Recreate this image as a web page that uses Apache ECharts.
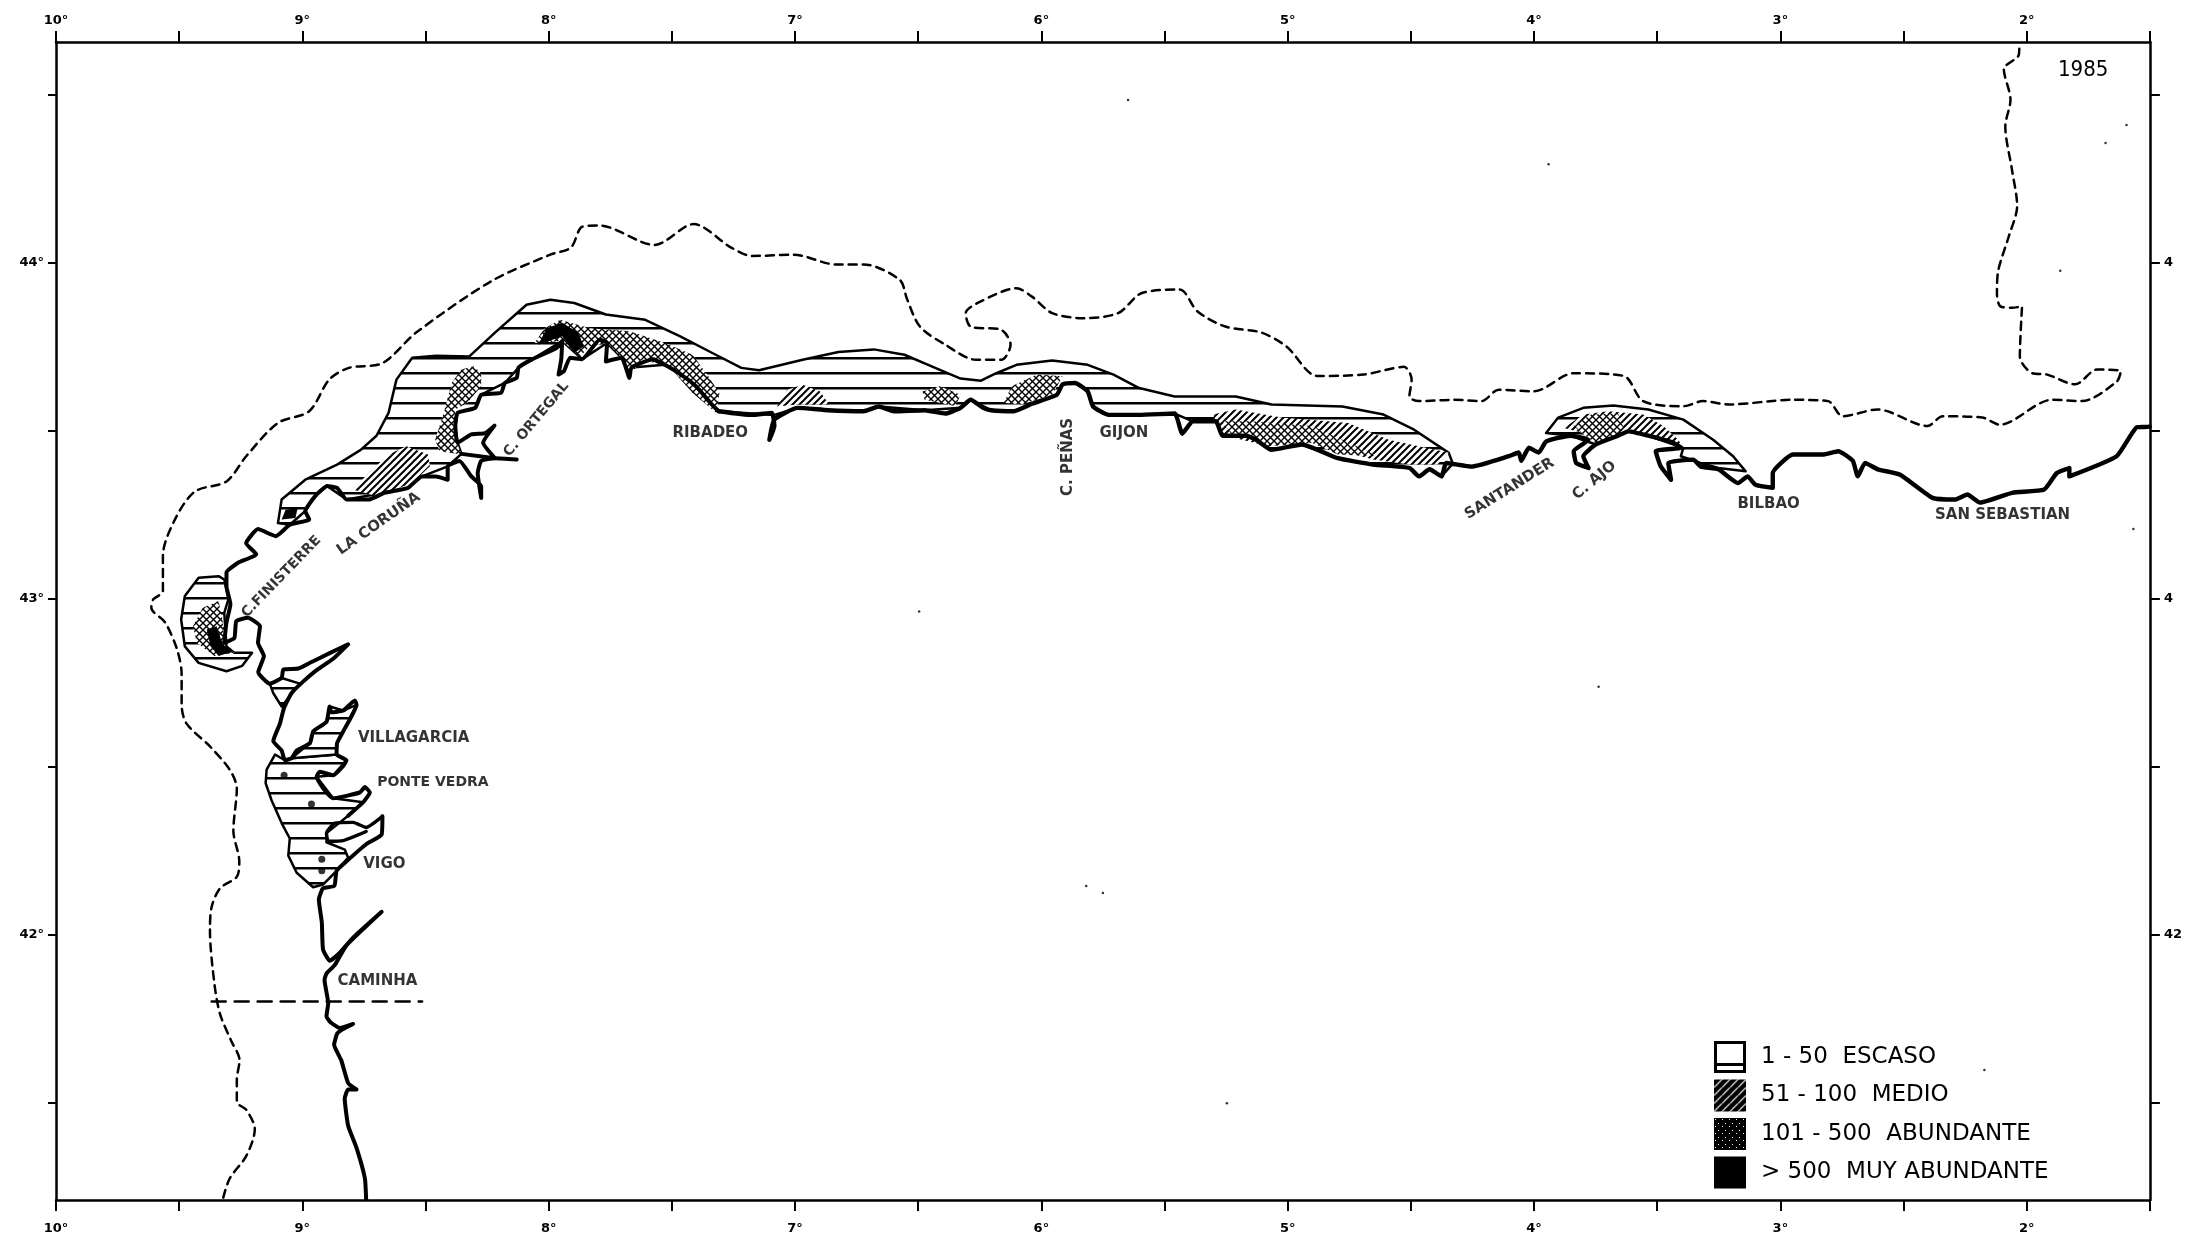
<!DOCTYPE html>
<html><head><meta charset="utf-8">
<style>html,body{margin:0;padding:0;background:#fff}#c{width:2185px;height:1240px}</style>
<script src="https://cdn.jsdelivr.net/npm/echarts@6/dist/echarts.min.js"></script>
</head><body><div id="c"></div>
<script>
// ---- axis values ----
const lonTicks=[-10,-9.5,-9,-8.5,-8,-7.5,-7,-6.5,-6,-5.5,-5,-4.5,-4,-3.5,-3,-2.5,-2,-1.5];
const lonLabels=[-10,-9,-8,-7,-6,-5,-4,-3,-2];
const latTicks=[41.5,42,42.5,43,43.5,44,44.5];
const latLabels=[42,43,44];
const rightLatText={42:'42',43:'4',44:'4'};
// ---- coastline pieces [lon,lat] ----
const coastSouth=[[-8.741,41.213],[-8.746,41.275],[-8.780,41.366],[-8.814,41.432],[-8.828,41.513],[-8.814,41.540],[-8.780,41.540],[-8.814,41.559],[-8.842,41.627],[-8.871,41.673],[-8.859,41.706],[-8.837,41.719],[-8.794,41.735],[-8.848,41.723],[-8.887,41.741],[-8.902,41.758],[-8.895,41.797],[-8.910,41.866],[-8.902,41.885],[-8.868,41.911],[-8.821,41.969],[-8.678,42.069],[-8.794,41.992],[-8.848,41.947],[-8.889,41.923],[-8.916,41.957],[-8.921,42.038],[-8.933,42.105],[-8.916,42.139],[-8.870,42.146],[-8.861,42.191],[-8.821,42.219],[-8.741,42.270],[-8.678,42.299],[-8.675,42.353]];
const coastVigoRia=[[-8.675,42.353],[-8.741,42.320],[-8.794,42.335],[-8.868,42.333],[-8.902,42.303],[-8.895,42.279],[-8.834,42.281],[-8.741,42.308]];
const coastRias=[[-8.814,42.355],[-8.753,42.395],[-8.726,42.424],[-8.746,42.440],[-8.767,42.424],[-8.875,42.407],[-8.908,42.429],[-8.942,42.471],[-8.929,42.486],[-8.875,42.475],[-8.834,42.503],[-8.821,42.520],[-8.861,42.537],[-8.859,42.571],[-8.834,42.606],[-8.780,42.685],[-8.787,42.698],[-8.834,42.668],[-8.882,42.663],[-8.889,42.680],[-8.902,42.634],[-8.956,42.606],[-8.969,42.571],[-9.023,42.549],[-9.044,42.526],[-9.071,42.520],[-9.084,42.549],[-9.118,42.577],[-9.091,42.629],[-9.075,42.674],[-9.044,42.720],[-8.997,42.754],[-8.942,42.788],[-8.875,42.822],[-8.814,42.865],[-8.889,42.839],[-8.969,42.810],[-9.017,42.793],[-9.077,42.790],[-9.084,42.765],[-9.132,42.748],[-9.179,42.782],[-9.156,42.830],[-9.180,42.870],[-9.172,42.919],[-9.221,42.944],[-9.268,42.934],[-9.276,42.884],[-9.317,42.870],[-9.308,42.930],[-9.292,42.984],[-9.308,43.038],[-9.308,43.079],[-9.261,43.108],[-9.187,43.133],[-9.228,43.166],[-9.180,43.208],[-9.108,43.187],[-9.051,43.221],[-8.972,43.237],[-8.988,43.262],[-8.947,43.307],[-8.899,43.336],[-8.859,43.331],[-8.820,43.296],[-8.731,43.296],[-8.667,43.316],[-8.571,43.331],[-8.514,43.365],[-8.458,43.365],[-8.410,43.355],[-8.410,43.395],[-8.362,43.411],[-8.314,43.365],[-8.274,43.336],[-8.274,43.301],[-8.288,43.374],[-8.274,43.411],[-8.218,43.419],[-8.130,43.415]];
const coastFerrol=[[-8.354,43.432],[-8.218,43.419],[-8.266,43.465],[-8.220,43.516],[-8.258,43.494],[-8.314,43.490],[-8.370,43.465],[-8.379,43.515],[-8.370,43.554],[-8.298,43.569],[-8.274,43.608],[-8.193,43.614],[-8.178,43.643],[-8.130,43.658],[-8.122,43.689],[-8.066,43.714],[-7.969,43.747],[-7.945,43.768],[-7.949,43.714],[-7.960,43.668],[-7.938,43.678],[-7.913,43.718],[-7.864,43.714],[-7.793,43.772],[-7.763,43.762],[-7.768,43.707],[-7.704,43.718],[-7.672,43.658],[-7.664,43.689],[-7.576,43.714],[-7.528,43.697],[-7.463,43.668],[-7.401,43.633],[-7.344,43.584],[-7.310,43.559]];
const coastCantabria=[[-7.310,43.559],[-7.176,43.548],[-7.094,43.554],[-7.084,43.515],[-7.104,43.474],[-7.084,43.534],[-6.990,43.569],[-6.866,43.562],[-6.722,43.559],[-6.660,43.573],[-6.598,43.559],[-6.474,43.562],[-6.390,43.552],[-6.328,43.569],[-6.287,43.593],[-6.236,43.569],[-6.204,43.562],[-6.112,43.559],[-6.038,43.581],[-5.937,43.608],[-5.914,43.639],[-5.863,43.643],[-5.812,43.618],[-5.790,43.573],[-5.727,43.548],[-5.603,43.548],[-5.459,43.552],[-5.428,43.492],[-5.385,43.529],[-5.292,43.529],[-5.264,43.486],[-5.169,43.486],[-5.128,43.474],[-5.066,43.444],[-4.942,43.460],[-4.797,43.419],[-4.653,43.400],[-4.506,43.390],[-4.467,43.365],[-4.424,43.386],[-4.376,43.365],[-4.356,43.405],[-4.254,43.394],[-4.102,43.425],[-4.062,43.436],[-4.052,43.411],[-4.021,43.450],[-3.981,43.436],[-3.951,43.469],[-3.851,43.486],[-3.779,43.474],[-3.839,43.440],[-3.829,43.405],[-3.779,43.390],[-3.800,43.425],[-3.749,43.460],[-3.659,43.486],[-3.617,43.499],[-3.536,43.486],[-3.435,43.465],[-3.404,43.450],[-3.506,43.440],[-3.486,43.395],[-3.444,43.355],[-3.455,43.405],[-3.353,43.415],[-3.323,43.394],[-3.252,43.386],[-3.172,43.345],[-3.133,43.365],[-3.101,43.340],[-3.031,43.331],[-3.031,43.375],[-2.949,43.430],[-2.827,43.430],[-2.765,43.440],[-2.706,43.411],[-2.686,43.365],[-2.656,43.405],[-2.605,43.386],[-2.514,43.370],[-2.382,43.301],[-2.291,43.296],[-2.241,43.311],[-2.190,43.287],[-2.059,43.316],[-1.929,43.326],[-1.878,43.375],[-1.827,43.390],[-1.827,43.365],[-1.635,43.425],[-1.553,43.511],[-1.522,43.512],[-1.500,43.513]];
// ---- dashed contour ----
const contour=[[-9.321,41.218],[-9.295,41.275],[-9.227,41.343],[-9.193,41.422],[-9.227,41.479],[-9.266,41.503],[-9.266,41.569],[-9.255,41.627],[-9.289,41.685],[-9.334,41.764],[-9.357,41.855],[-9.375,42.014],[-9.368,42.084],[-9.334,42.139],[-9.266,42.173],[-9.256,42.219],[-9.280,42.310],[-9.266,42.436],[-9.295,42.492],[-9.375,42.561],[-9.470,42.629],[-9.490,42.685],[-9.490,42.776],[-9.509,42.851],[-9.557,42.930],[-9.613,42.974],[-9.605,42.999],[-9.566,43.023],[-9.566,43.129],[-9.517,43.237],[-9.436,43.320],[-9.308,43.350],[-9.228,43.425],[-9.099,43.524],[-8.972,43.559],[-8.891,43.653],[-8.811,43.688],[-8.675,43.702],[-8.538,43.793],[-8.233,43.946],[-7.994,44.025],[-7.910,44.046],[-7.864,44.108],[-7.796,44.112],[-7.570,44.054],[-7.412,44.116],[-7.259,44.046],[-7.175,44.021],[-7.005,44.025],[-6.835,43.996],[-6.722,43.996],[-6.575,43.950],[-6.545,43.892],[-6.493,43.811],[-6.390,43.757],[-6.266,43.712],[-6.163,43.712],[-6.125,43.757],[-6.163,43.801],[-6.287,43.811],[-6.307,43.851],[-6.245,43.886],[-6.101,43.925],[-6.038,43.900],[-5.956,43.851],[-5.831,43.836],[-5.688,43.851],[-5.594,43.910],[-5.439,43.921],[-5.366,43.856],[-5.253,43.811],[-5.107,43.793],[-5.004,43.751],[-4.880,43.664],[-4.693,43.668],[-4.529,43.691],[-4.497,43.653],[-4.506,43.603],[-4.467,43.589],[-4.325,43.593],[-4.214,43.589],[-4.143,43.623],[-4.001,43.618],[-3.839,43.672],[-3.636,43.664],[-3.557,43.589],[-3.394,43.574],[-3.314,43.589],[-3.212,43.579],[-2.949,43.593],[-2.807,43.589],[-2.747,43.544],[-2.605,43.564],[-2.403,43.515],[-2.341,43.544],[-2.180,43.540],[-2.110,43.519],[-1.897,43.593],[-1.776,43.589],[-1.635,43.647],[-1.618,43.678],[-1.714,43.683],[-1.804,43.639],[-1.917,43.668],[-1.977,43.672],[-2.028,43.722],[-2.019,43.871],[-2.060,43.867],[-2.107,43.871],[-2.121,43.911],[-2.115,43.980],[-2.073,44.079],[-2.039,44.170],[-2.060,44.278],[-2.087,44.407],[-2.066,44.486],[-2.093,44.577],[-2.032,44.620],[-2.030,44.651]];
const caminhaLine=[[-9.368,41.802],[-8.514,41.802]];
// ---- abundance zones ----
const zoneEscasoNorth=[[-9.099,43.226],[-9.084,43.296],[-8.988,43.355],[-8.859,43.400],[-8.763,43.444],[-8.699,43.486],[-8.650,43.554],[-8.618,43.653],[-8.554,43.718],[-8.458,43.724],[-8.322,43.722],[-8.218,43.793],[-8.090,43.876],[-7.993,43.891],[-7.896,43.881],[-7.768,43.847],[-7.608,43.831],[-7.466,43.782],[-7.322,43.727],[-7.218,43.688],[-7.146,43.681],[-6.969,43.712],[-6.824,43.735],[-6.680,43.743],[-6.556,43.727],[-6.431,43.688],[-6.328,43.656],[-6.245,43.650],[-6.183,43.672],[-6.101,43.697],[-5.956,43.710],[-5.812,43.697],[-5.707,43.668],[-5.603,43.628],[-5.459,43.603],[-5.211,43.603],[-5.066,43.579],[-4.778,43.573],[-4.611,43.549],[-4.487,43.504],[-4.346,43.435],[-4.330,43.403],[-4.376,43.365],[-4.424,43.386],[-4.467,43.365],[-4.506,43.390],[-4.653,43.400],[-4.797,43.419],[-4.942,43.460],[-5.066,43.444],[-5.128,43.474],[-5.169,43.486],[-5.264,43.486],[-5.292,43.529],[-5.385,43.529],[-5.459,43.552],[-5.603,43.548],[-5.727,43.548],[-5.790,43.573],[-5.812,43.618],[-5.863,43.643],[-5.914,43.639],[-5.937,43.608],[-6.038,43.581],[-6.112,43.559],[-6.204,43.562],[-6.287,43.593],[-6.328,43.569],[-6.474,43.562],[-6.660,43.573],[-6.722,43.559],[-6.866,43.562],[-6.990,43.569],[-7.084,43.548],[-7.310,43.559],[-7.344,43.584],[-7.401,43.633],[-7.463,43.668],[-7.528,43.697],[-7.664,43.689],[-7.763,43.762],[-7.864,43.714],[-7.945,43.768],[-8.066,43.714],[-8.122,43.689],[-8.178,43.643],[-8.274,43.608],[-8.298,43.569],[-8.370,43.554],[-8.379,43.515],[-8.370,43.465],[-8.354,43.432],[-8.410,43.395],[-8.514,43.365],[-8.667,43.316],[-8.820,43.296],[-8.899,43.336],[-8.947,43.307],[-8.988,43.262],[-9.051,43.221]];
const zoneEscasoFinisterre=[[-9.340,43.068],[-9.421,43.063],[-9.477,43.009],[-9.492,42.939],[-9.477,42.859],[-9.421,42.810],[-9.308,42.785],[-9.244,42.801],[-9.204,42.840],[-9.276,42.840],[-9.308,42.859],[-9.317,42.959],[-9.300,43.000],[-9.317,43.058]];
const zoneEscasoRias=[[-9.111,42.537],[-9.145,42.492],[-9.149,42.452],[-9.125,42.401],[-9.084,42.333],[-9.051,42.287],[-9.057,42.236],[-9.023,42.185],[-8.956,42.142],[-8.916,42.150],[-8.861,42.191],[-8.814,42.230],[-8.828,42.254],[-8.902,42.276],[-8.902,42.303],[-8.814,42.355],[-8.753,42.395],[-8.875,42.407],[-8.942,42.471],[-8.875,42.475],[-8.821,42.520],[-8.861,42.537],[-9.044,42.526],[-9.071,42.520]];
const zoneEscasoArousa=[[-9.044,42.526],[-8.969,42.571],[-8.956,42.606],[-8.902,42.634],[-8.889,42.680],[-8.834,42.668],[-8.780,42.685],[-8.834,42.606],[-8.859,42.571],[-8.861,42.537]];
const zoneEscasoMuros=[[-9.132,42.748],[-9.084,42.765],[-9.010,42.748],[-9.084,42.680],[-9.118,42.720]];
const zoneEscasoAjo=[[-3.951,43.494],[-3.902,43.540],[-3.800,43.569],[-3.678,43.576],[-3.536,43.564],[-3.394,43.534],[-3.273,43.474],[-3.192,43.425],[-3.141,43.380],[-3.252,43.390],[-3.325,43.405],[-3.404,43.425],[-3.394,43.450],[-3.536,43.486],[-3.617,43.499],[-3.749,43.460],[-3.851,43.486]];
const zoneMedioCoruna=[[-8.578,43.455],[-8.490,43.430],[-8.482,43.395],[-8.554,43.345],[-8.699,43.306],[-8.795,43.326],[-8.731,43.375],[-8.650,43.430]];
const zoneMedioRibadeo=[[-7.073,43.573],[-7.032,43.623],[-6.969,43.638],[-6.898,43.618],[-6.862,43.579],[-6.990,43.579]];
const zoneMedioGijon=[[-5.303,43.549],[-5.211,43.564],[-5.025,43.540],[-4.755,43.524],[-4.591,43.474],[-4.346,43.435],[-4.393,43.400],[-4.506,43.400],[-4.653,43.415],[-4.902,43.465],[-5.077,43.455],[-5.253,43.486],[-5.292,43.529]];
const zoneMedioAjo=[[-3.879,43.509],[-3.800,43.549],[-3.698,43.559],[-3.557,43.549],[-3.475,43.515],[-3.415,43.474],[-3.394,43.450],[-3.536,43.486],[-3.617,43.499],[-3.659,43.486],[-3.749,43.474],[-3.800,43.494]];
const zoneAbundFinisterre=[[-9.340,42.994],[-9.404,42.974],[-9.444,42.919],[-9.428,42.870],[-9.357,42.830],[-9.276,42.840],[-9.317,42.859],[-9.324,42.939]];
const zoneAbundCedeira=[[-8.305,43.693],[-8.274,43.672],[-8.274,43.633],[-8.330,43.584],[-8.379,43.564],[-8.386,43.515],[-8.370,43.461],[-8.354,43.430],[-8.442,43.440],[-8.461,43.474],[-8.426,43.554],[-8.394,43.643],[-8.354,43.683]];
const zoneAbundOrtegal=[[-7.953,43.831],[-7.833,43.806],[-7.672,43.797],[-7.528,43.762],[-7.416,43.727],[-7.352,43.663],[-7.307,43.613],[-7.319,43.554],[-7.416,43.613],[-7.512,43.693],[-7.624,43.712],[-7.672,43.664],[-7.704,43.718],[-7.760,43.762],[-7.833,43.752],[-7.873,43.722],[-7.945,43.768],[-8.057,43.762],[-8.017,43.806]];
const zoneAbundRivera=[[-6.483,43.618],[-6.412,43.633],[-6.328,43.608],[-6.349,43.574],[-6.412,43.584],[-6.474,43.593]];
const zoneAbundPenas=[[-6.152,43.584],[-6.121,43.633],[-6.018,43.668],[-5.914,43.663],[-5.956,43.608],[-6.080,43.579]];
const zoneAbundGijon=[[-5.264,43.529],[-5.149,43.529],[-4.902,43.515],[-4.778,43.474],[-4.631,43.425],[-4.797,43.430],[-4.902,43.465],[-5.077,43.460],[-5.232,43.494]];
const zoneAbundAjo=[[-3.839,43.515],[-3.769,43.549],[-3.659,43.552],[-3.636,43.509],[-3.698,43.474],[-3.749,43.465],[-3.800,43.490]];
const zoneMuyFinisterre=[[-9.388,42.909],[-9.373,42.859],[-9.340,42.830],[-9.283,42.844],[-9.324,42.865],[-9.348,42.919]];
const zoneMuyOrtegal=[[-8.025,43.782],[-8.009,43.806],[-7.945,43.822],[-7.881,43.793],[-7.857,43.752],[-7.896,43.732],[-7.945,43.782],[-8.041,43.757]];
const zoneMuyMuxia=[[-9.084,43.237],[-9.068,43.266],[-9.019,43.271],[-9.028,43.241]];
// ---- islands, specks, names ----
const islands=[[-9.074,42.475],[-8.963,42.390],[-8.921,42.225],[-8.921,42.191]];
const specks=[[-6.496,42.963],[-5.818,42.146],[-5.750,42.125],[-3.738,42.739],[-5.247,41.499],[-2.172,41.598],[-1.595,44.411],[-1.680,44.357],[-1.864,43.977],[-5.648,44.485],[-3.941,44.294],[-1.567,43.208]];
const placeNames=['C.FINISTERRE','LA CORUÑA','C. ORTEGAL','RIBADEO','C. PEÑAS','GIJON','SANTANDER','C. AJO','BILBAO','SAN SEBASTIAN','VILLAGARCIA','PONTE VEDRA','VIGO','CAMINHA'];
const placeLon=[-9.085,-8.690,-8.050,-7.344,-5.891,-5.665,-4.099,-3.755,-3.048,-2.098,-8.548,-8.470,-8.667,-8.695];
const placeLat=[43.066,43.224,43.535,43.494,43.423,43.494,43.328,43.353,43.282,43.249,42.586,42.453,42.212,41.864];
const placeAngle=[46,35,50,0,90,0,32,40,0,0,0,0,0,0];
const placeSize=[14,15,14,15,15,15,15,15,15,15,15,14,15,15];
const legendNames=['1 - 50  ESCASO','51 - 100  MEDIO','101 - 500  ABUNDANTE','> 500  MUY ABUNDANTE'];

// ---- fill patterns ----
function tile(w,h,draw){const c=document.createElement('canvas');c.width=w;c.height=h;const g=c.getContext('2d');draw(g);return {image:c,repeat:'repeat'};}
const patLines=tile(4,15,g=>{g.fillStyle='#fff';g.fillRect(0,0,4,15);g.fillStyle='#000';g.fillRect(0,12,4,2.5);});
const patHatch=tile(7,7,g=>{g.fillStyle='#fff';g.fillRect(0,0,7,7);g.strokeStyle='#000';g.lineWidth=2;g.beginPath();g.moveTo(-2,9);g.lineTo(9,-2);g.moveTo(-2,2);g.lineTo(2,-2);g.moveTo(5,9);g.lineTo(9,5);g.stroke();});
const patCross=tile(7,7,g=>{g.fillStyle='#fff';g.fillRect(0,0,7,7);g.strokeStyle='#000';g.lineWidth=1.4;g.beginPath();g.moveTo(-1,-1);g.lineTo(8,8);g.moveTo(-1,8);g.lineTo(8,-1);g.stroke();});
const patLegendHatch=tile(8,8,g=>{g.fillStyle='#000';g.fillRect(0,0,8,8);g.strokeStyle='#fff';g.lineWidth=1.2;g.beginPath();g.moveTo(-2,10);g.lineTo(10,-2);g.stroke();});
const patLegendDots=tile(7,7,g=>{g.fillStyle='#000';g.fillRect(0,0,7,7);g.fillStyle='#fff';g.fillRect(1,1,1,1);g.fillRect(4,5,1,1);});

function zoneSeries(name,polys,fill,stroke,width){
  return {type:'custom',name,coordinateSystem:'cartesian2d',silent:true,clip:true,
    itemStyle:{color:'#000'},
    data:polys.map((p,i)=>[i,42]),
    renderItem:(params,api)=>({type:'polygon',shape:{points:polys[api.value(0)].map(p=>api.coord(p))},
      style:{fill,stroke:stroke,lineWidth:width,lineJoin:'round'}})};
}
function lineSeries(data,width,dash,smooth){
  return {type:'line',data,silent:true,showSymbol:false,symbol:'none',smooth:smooth||false,animation:false,
    lineStyle:{color:'#000',width,type:dash||'solid',cap:'round',join:'round'}};
}
const axisFont={fontFamily:'DejaVu Sans',fontWeight:'bold',fontSize:13,color:'#000'};
function lonAxis(position,margin){return {type:'value',position,min:-10,max:-1.5,
  axisLine:{onZero:false,lineStyle:{color:'#000',width:2.5}},
  axisTick:{show:true,customValues:lonTicks,length:11,inside:false,lineStyle:{color:'#000',width:2}},
  axisLabel:{show:true,customValues:lonLabels,margin,...axisFont,formatter:v=>Math.abs(v)+'°'},
  splitLine:{show:false}};}
const chart=echarts.init(document.getElementById('c'),null,{renderer:'canvas',devicePixelRatio:1});
chart.setOption({
  animation:false,backgroundColor:'#fff',
  grid:{left:56,right:34,top:42,bottom:40,containLabel:false},
  title:{text:'1985',left:2053,top:54,textStyle:{fontFamily:'DejaVu Sans Condensed',fontSize:22,fontWeight:'normal',color:'#000'}},
  legend:{orient:'vertical',left:1709,top:1036,itemWidth:32,itemHeight:32,itemGap:6.5,selectedMode:false,
    textStyle:{fontFamily:'DejaVu Sans',fontSize:23,color:'#000',padding:[0,0,0,10]},
    data:[
      {name:legendNames[0],icon:'path://M0 0H32V32H0Z M3 3V22H29V3Z M3 25V29H29V25Z',itemStyle:{color:'#000'}},
      {name:legendNames[1],icon:'rect',itemStyle:{color:patLegendHatch}},
      {name:legendNames[2],icon:'rect',itemStyle:{color:patLegendDots}},
      {name:legendNames[3],icon:'rect',itemStyle:{color:'#000'}}]},
  xAxis:[lonAxis('bottom',22),lonAxis('top',15)],
  yAxis:[
    {type:'value',position:'left',min:41.211,max:44.658,
     axisLine:{onZero:false,lineStyle:{color:'#000',width:2.5}},
     axisTick:{show:true,customValues:latTicks,length:8,lineStyle:{color:'#000',width:2}},
     axisLabel:{show:true,customValues:latLabels,margin:12,...axisFont,formatter:v=>Math.round(v)+'°'},
     splitLine:{show:false}},
    {type:'value',position:'right',min:41.211,max:44.658,
     axisLine:{onZero:false,lineStyle:{color:'#000',width:2.5}},
     axisTick:{show:true,customValues:latTicks,length:10,lineStyle:{color:'#000',width:2}},
     axisLabel:{show:true,customValues:latLabels,margin:14,...axisFont,formatter:v=>rightLatText[Math.round(v)]},
     splitLine:{show:false}}],
  series:[
    zoneSeries(legendNames[0],[zoneEscasoNorth,zoneEscasoFinisterre,zoneEscasoRias,zoneEscasoArousa,zoneEscasoMuros,zoneEscasoAjo],patLines,'#000',2.5),
    zoneSeries(legendNames[1],[zoneMedioCoruna,zoneMedioRibadeo,zoneMedioGijon,zoneMedioAjo],patHatch,null,0),
    zoneSeries(legendNames[2],[zoneAbundFinisterre,zoneAbundCedeira,zoneAbundOrtegal,zoneAbundRivera,zoneAbundPenas,zoneAbundGijon,zoneAbundAjo],patCross,null,0),
    zoneSeries(legendNames[3],[zoneMuyFinisterre,zoneMuyOrtegal,zoneMuyMuxia],'#000',null,0),
    lineSeries(contour,2.5,[8,6],0.3),
    lineSeries(caminhaLine,2.6,[14,9]),
    lineSeries(coastSouth,4,null,0.15),lineSeries(coastVigoRia,3.4,null,0.15),lineSeries(coastRias,4,null,0.15),
    lineSeries(coastFerrol,4,null,0.15),lineSeries(coastCantabria,4.4,null,0.15),
    {type:'scatter',data:islands,symbolSize:7,itemStyle:{color:'#000'},silent:true},
    {type:'scatter',data:specks,symbolSize:2.5,itemStyle:{color:'#000'},silent:true},
    {type:'scatter',silent:true,symbolSize:0,
     data:placeNames.map((n,i)=>({name:n,value:[placeLon[i],placeLat[i]],
       label:{show:true,position:'inside',formatter:n,rotate:placeAngle[i],
         fontFamily:'DejaVu Sans',fontWeight:'bold',fontSize:placeSize[i],color:'#000'}}))}
  ]
});
</script></body></html>
